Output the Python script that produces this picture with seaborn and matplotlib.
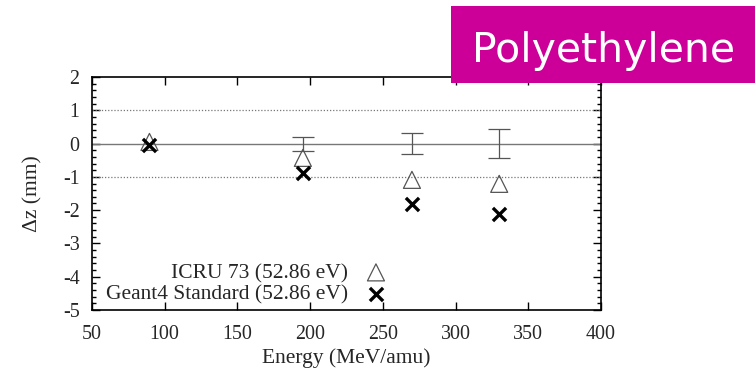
import matplotlib
matplotlib.use("Agg")
import matplotlib.pyplot as plt
from matplotlib.patches import Rectangle
from matplotlib.ticker import MultipleLocator
import seaborn as sns
import pandas as pd

energy = [89.5, 195, 270, 330]
icru73 = [0.05, -0.43, -1.09, -1.21]
geant4 = [-0.04, -0.87, -1.81, -2.11]
err_energy = [195, 270, 330]
err_center = [0.0, 0.0, 0.0]
err_size = [0.21, 0.31, 0.43]

icru_label = "ICRU 73 (52.86 eV)"
geant_label = "Geant4 Standard (52.86 eV)"

sns.set_theme(style="ticks")
plt.rcParams["font.family"] = ["Liberation Serif", "DejaVu Serif"]
plt.rcParams["axes.unicode_minus"] = False

W, H = 755, 371
fig = plt.figure(figsize=(W / 100, H / 100), dpi=100)
x0, x1, y0, y1 = 92, 601, 77, 310
ax = fig.add_axes([x0 / W, 1 - y1 / H, (x1 - x0) / W, (y1 - y0) / H])

ax.axhline(0, color="#777777", lw=1.0, zorder=1)
for y in (1, -1):
    ax.axhline(y, color="#777777", lw=0.9, ls=(0, (1, 1.5)), zorder=1)

ax.errorbar(err_energy, err_center, yerr=err_size, fmt="none",
            ecolor="#555555", elinewidth=0.9, capsize=8, capthick=0.9, zorder=2)

df = pd.DataFrame({"energy": energy, "icru": icru73, "geant": geant4})
sns.scatterplot(data=df, x="energy", y="icru", marker="^", s=150,
                facecolor="none", edgecolor="#555555", linewidth=0.9,
                ax=ax, label=icru_label, zorder=3)
sns.scatterplot(data=df, x="energy", y="geant", marker="x", s=90,
                color="black", linewidth=2.4, ax=ax, label=geant_label, zorder=4)

ax.set_xlim(50, 400)
ax.set_ylim(-5, 2)
ax.xaxis.set_major_locator(MultipleLocator(50))
ax.yaxis.set_major_locator(MultipleLocator(1))
ax.yaxis.set_minor_locator(MultipleLocator(0.2))
ax.tick_params(which="both", direction="in", top=True, right=True,
               labelsize=14.4, color="black")
ax.tick_params(which="major", length=6, width=1)
ax.tick_params(which="minor", length=3, width=1)
ax.tick_params(axis="x", pad=11)
ax.tick_params(axis="y", pad=9)
for s in ax.spines.values():
    s.set_linewidth(1.2)
    s.set_color("black")

ax.set_xlabel("Energy (MeV/amu)", fontsize=15.5, va="center")
ax.set_ylabel("Δz (mm)", fontsize=15.5, va="center")
ax.xaxis.set_label_coords(0.5, -(358 - y1) / (y1 - y0))
ax.yaxis.set_label_coords(-(x0 - 33) / (x1 - x0), 0.5)

leg = ax.legend(loc="lower right", bbox_to_anchor=(0.579, 0.025), frameon=False,
                markerfirst=False, fontsize=15.5, handlelength=1.0,
                handletextpad=0.8, labelspacing=0.05, borderpad=0.0,
                borderaxespad=0.0)
leg._legend_box.align = "right"

# Title badge in the top right corner
fig.patches.append(Rectangle((451 / W, 1 - 83 / H), 1 - 451 / W, (83 - 6) / H,
                             transform=fig.transFigure, facecolor="#cc0099",
                             edgecolor="none", zorder=10))
fig.text(603.5 / W, 1 - 62 / H, "Polyethylene", color="white",
         fontsize=29.5, family="DejaVu Sans", ha="center", va="baseline", zorder=11)

fig.savefig("out.png", dpi=100)
